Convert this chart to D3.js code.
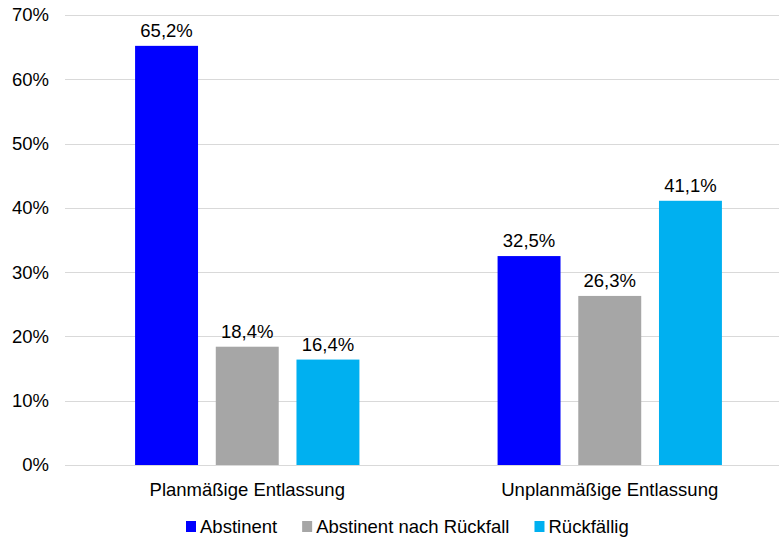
<!DOCTYPE html>
<html>
<head>
<meta charset="utf-8">
<script src="https://cdn.jsdelivr.net/npm/d3@7"></script>
<style>
  body { margin: 0; background: #fff; }
  text { font-family: "Liberation Sans", Arial, sans-serif; fill: #000; }
</style>
</head>
<body>
<div id="chart"></div>
<script>
// data
const categories = ['Planmäßige Entlassung', 'Unplanmäßige Entlassung'];
const series = ['Abstinent', 'Abstinent nach Rückfall', 'Rückfällig'];
const abstinent = [65.2, 32.5];
const abstinentNachRueckfall = [18.4, 26.3];
const rueckfaellig = [16.4, 41.1];
const yTicks = [0, 10, 20, 30, 40, 50, 60, 70];

const colors = ['#0000ff', '#a6a6a6', '#00b0f0'];
const values = [abstinent, abstinentNachRueckfall, rueckfaellig];

const width = 779, height = 540;
const margin = { top: 15, right: -12, bottom: 75, left: 66 };
const fs = '18.5px';

const svg = d3.select('#chart').append('svg')
  .attr('width', width)
  .attr('height', height);

const y = d3.scaleLinear()
  .domain([0, 70])
  .range([height - margin.bottom, margin.top]);

const x0 = d3.scaleBand()
  .domain(categories)
  .range([margin.left, width - margin.right]);

const x1 = d3.scaleBand()
  .domain(series)
  .range([0, x0.bandwidth()])
  .paddingInner(0.22)
  .paddingOuter(0.856);

const fmt = v => d3.format('.1f')(v).replace('.', ',') + '%';

// gridlines + y labels
svg.append('g')
  .selectAll('line')
  .data(yTicks)
  .join('line')
  .attr('x1', 65)
  .attr('x2', width)
  .attr('y1', d => Math.round(y(d)) + 0.5)
  .attr('y2', d => Math.round(y(d)) + 0.5)
  .attr('stroke', '#d9d9d9')
  .attr('stroke-width', 1);

svg.append('g')
  .selectAll('text')
  .data(yTicks)
  .join('text')
  .attr('x', 49)
  .attr('y', d => y(d))
  .attr('dy', '0.35em')
  .attr('text-anchor', 'end')
  .style('font-size', fs)
  .text(d => d + '%');

// bars
const rows = [];
categories.forEach((c, i) => {
  series.forEach((s, j) => rows.push({ cat: c, ser: s, v: values[j][i], color: colors[j] }));
});

svg.append('g')
  .selectAll('rect')
  .data(rows)
  .join('rect')
  .attr('x', d => x0(d.cat) + x1(d.ser))
  .attr('y', d => y(d.v))
  .attr('width', x1.bandwidth())
  .attr('height', d => y(0) - y(d.v))
  .attr('fill', d => d.color);

svg.append('g')
  .selectAll('text')
  .data(rows)
  .join('text')
  .attr('x', d => x0(d.cat) + x1(d.ser) + x1.bandwidth() / 2)
  .attr('y', d => y(d.v) - 9)
  .attr('text-anchor', 'middle')
  .style('font-size', fs)
  .text(d => fmt(d.v));

// category labels
svg.append('g')
  .selectAll('text')
  .data(categories)
  .join('text')
  .attr('x', d => x0(d) + x0.bandwidth() / 2)
  .attr('y', y(0) + 31)
  .attr('text-anchor', 'middle')
  .style('font-size', fs)
  .text(d => d);

// legend
const legend = svg.append('g');
let lx = 0;
series.forEach((s, i) => {
  const g = legend.append('g').attr('transform', `translate(${lx},0)`);
  g.append('rect')
    .attr('x', 0).attr('y', -6)
    .attr('width', 10).attr('height', 11)
    .attr('fill', colors[i]);
  const t = g.append('text')
    .attr('x', 14).attr('y', 0)
    .attr('dy', '0.35em')
    .style('font-size', fs)
    .text(s);
  lx += 14 + t.node().getComputedTextLength() + 25;
});
const legendW = lx - 25;
legend.attr('transform', `translate(${Math.round(407 - legendW / 2)},527)`);
</script>
</body>
</html>
